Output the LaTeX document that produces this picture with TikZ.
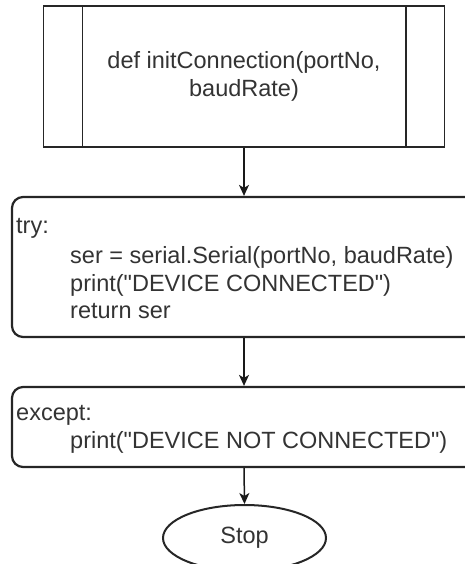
\documentclass[tikz,border=0pt]{standalone}
\usepackage{fontspec}
\setmainfont{Liberation Sans}
\usetikzlibrary{arrows.meta,shapes.geometric}

\tikzset{
  txt/.style={text=black!80, font=\fontsize{23.5}{28}\selectfont, inner sep=0pt},
  procbox/.style={draw=black!85, line width=1.5pt, rectangle, inner sep=0pt},
  codebox/.style={draw=black!85, line width=2.2pt, rectangle, rounded corners=11pt, inner sep=0pt},
  termbox/.style={draw=black!85, line width=2pt, ellipse, inner sep=0pt},
  flow/.style={draw=black!90, line width=1.5pt, -{Stealth[length=11pt, width=10pt, inset=3pt]}},
}
\newcommand{\dq}{\textquotedbl}

\begin{document}
\begin{tikzpicture}[x=1pt, y=-1pt]
  \useasboundingbox (0,0) rectangle (465,564);
  \clip (0,0) rectangle (465,564);

  % predefined process: the function header
  \node[procbox, txt, align=center, minimum width=401pt, minimum height=141pt]
    (init) at (244,76.5) {def initConnection(portNo,\\baudRate)};
  \draw[procbox] ([xshift=39.5pt]init.north west) -- ([xshift=39.5pt]init.south west);
  \draw[procbox] ([xshift=-39.5pt]init.north east) -- ([xshift=-39.5pt]init.south east);

  % try block
  \node[codebox, minimum width=464pt, minimum height=140pt] (try) at (244,267) {};
  \node[txt, anchor=base west] (t0) at (16,233) {try:};
  \node[txt, anchor=base west] (t1) at (70,263) {ser = serial.Serial(portNo, baudRate)};
  \node[txt, anchor=base west] (t2) at (70,291) {print(\dq DEVICE CONNECTED\dq)};
  \node[txt, anchor=base west] (t3) at (70,318) {return ser};

  % except block
  \node[codebox, minimum width=464pt, minimum height=80pt] (exc) at (244,427) {};
  \node[txt, anchor=base west] (e0) at (16,420) {except:};
  \node[txt, anchor=base west] (e1) at (70,448) {print(\dq DEVICE NOT CONNECTED\dq)};

  % terminator
  \node[termbox, txt, minimum width=163pt, minimum height=66pt] (stop) at (244.5,538) {Stop};

  % connectors
  \draw[flow] (init.south) -- (try.north);
  \draw[flow] (try.south) -- (exc.north);
  \draw[flow] (exc.south) -- (stop.north);
\end{tikzpicture}
\end{document}
